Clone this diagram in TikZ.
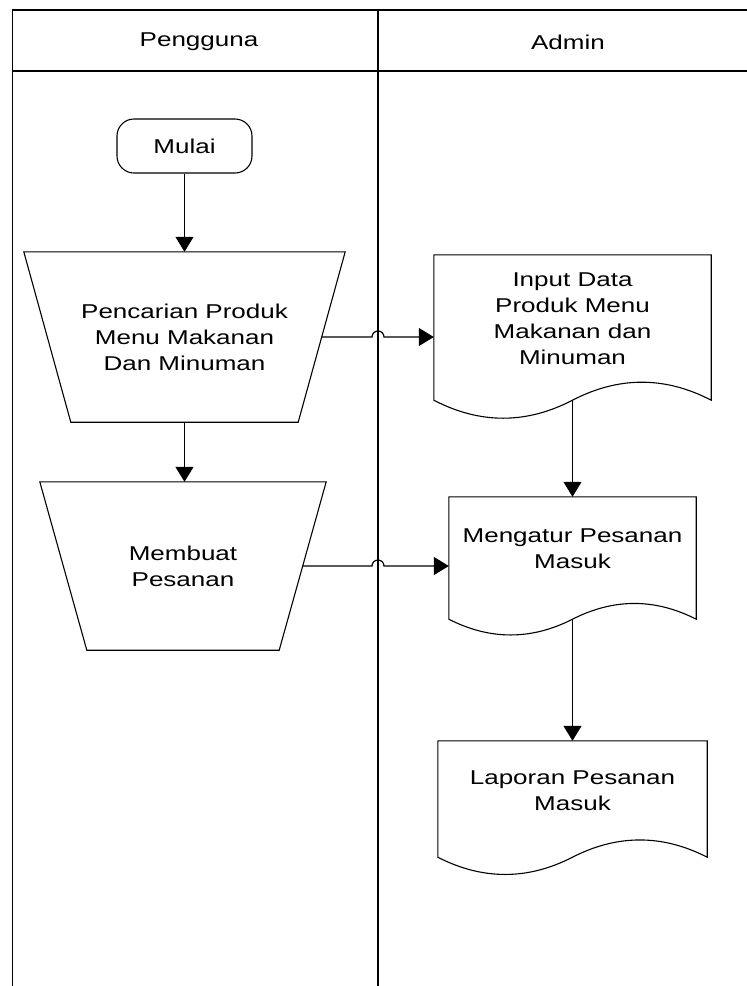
\documentclass[tikz,border=0pt]{standalone}
\usepackage{fontspec}
\setmainfont{Liberation Sans}[FakeStretch=1.3]
\usetikzlibrary{arrows.meta,calc}

\begin{document}
\begin{tikzpicture}[x=1pt,y=-1pt,
  every node/.style={font=\fontsize{20}{26}\selectfont, align=center, inner sep=0pt},
  shapeline/.style={line width=1.1pt},
  lane/.style={line width=1.6pt},
  flow/.style={line width=1.2pt, -{Triangle[width=18pt,length=15pt]}},
  terminal/.style={draw, shapeline, rounded corners=17pt, minimum width=135pt, minimum height=54pt},
]
\useasboundingbox (0,0) rectangle (747,986);

% swimlane frame
\coordinate (divtop) at (378,10);
\coordinate (divbot) at (378,986);
\draw[lane] (12.5,986) -- (12.5,10) -- (747,10);
\draw[lane] (12.5,71) -- (747,71);
\draw[lane] (divtop) -- (divbot);
\node (hdrP) at (199,42) {Pengguna};
\node (hdrA) at (568,42) {Admin};

% Pengguna lane
\node[terminal] (mulai) at (184.5,146) {Mulai};

\node[minimum width=274pt, minimum height=170pt] (pcr) at (184.5,337)
  {Pencarian Produk\\Menu Makanan\\Dan Minuman};
\draw[shapeline] ([xshift=-23.5pt]pcr.north west) -- ([xshift=23.5pt]pcr.north east)
  -- ([xshift=-23.5pt]pcr.south east) -- ([xshift=23.5pt]pcr.south west) -- cycle;

\node[minimum width=239pt, minimum height=168pt] (mbt) at (183,566)
  {Membuat\\Pesanan};
\draw[shapeline] ([xshift=-23.5pt]mbt.north west) -- ([xshift=23.5pt]mbt.north east)
  -- ([xshift=-23.5pt]mbt.south east) -- ([xshift=23.5pt]mbt.south west) -- cycle;

% Admin lane: document shapes
\node[minimum width=277pt, minimum height=145pt,
  label={[yshift=9pt]center:{Input Data\\Produk Menu\\Makanan dan\\Minuman}}] (inp) at (572.5,327.5) {};
\draw[shapeline] (inp.south west) -- (inp.north west) -- (inp.north east) -- (inp.south east)
  .. controls +(-46.2,-24) and +(46.2,-24) .. (inp.south)
  .. controls +(-46.2,24) and +(46.2,24) .. (inp.south west) -- cycle;

\node[minimum width=247pt, minimum height=122pt,
  label={[yshift=9pt]center:{Mengatur Pesanan\\Masuk}}] (mgr) at (572.5,558) {};
\draw[shapeline] (mgr.south west) -- (mgr.north west) -- (mgr.north east) -- (mgr.south east)
  .. controls +(-41.2,-21) and +(41.2,-21) .. (mgr.south)
  .. controls +(-41.2,21) and +(41.2,21) .. (mgr.south west) -- cycle;

\node[minimum width=269pt, minimum height=116pt,
  label={[yshift=8.5pt]center:{Laporan Pesanan\\Masuk}}] (lap) at (572.5,799) {};
\draw[shapeline] (lap.south west) -- (lap.north west) -- (lap.north east) -- (lap.south east)
  .. controls +(-44.8,-23) and +(44.8,-23) .. (lap.south)
  .. controls +(-44.8,23) and +(44.8,23) .. (lap.south west) -- cycle;

% connectors
\draw[flow] (mulai.south) -- (pcr.north);
\draw[flow] (pcr.south) -- (pcr.south |- mbt.north);
\draw[flow] (pcr.east) -- ($(pcr.east -| divtop)+(-6,0)$)
  arc[start angle=180, end angle=0, radius=6pt] -- (pcr.east -| inp.west);
\draw[flow] (mbt.east) -- ($(mbt.east -| divtop)+(-6,0)$)
  arc[start angle=180, end angle=0, radius=6pt] -- (mbt.east -| mgr.west);
\draw[flow] (inp.south) -- (mgr.north);
\draw[flow] (mgr.south) -- (lap.north);
\end{tikzpicture}
\end{document}
